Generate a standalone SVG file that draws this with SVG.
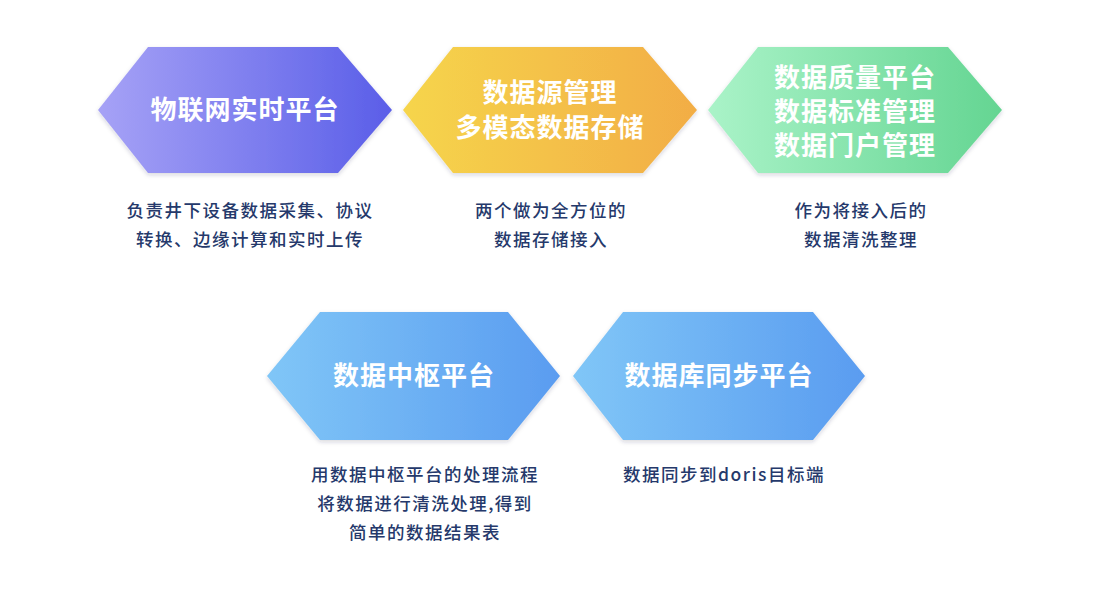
<svg xmlns="http://www.w3.org/2000/svg" width="1094" height="614" viewBox="0 0 1094 614">
<defs>
<linearGradient id="gPurple" x1="0" y1="0" x2="1" y2="0"><stop offset="0" stop-color="#a6a2f6"/><stop offset="1" stop-color="#5a5ee8"/></linearGradient>
<linearGradient id="gYellow" x1="0" y1="0" x2="1" y2="0"><stop offset="0" stop-color="#f6d54c"/><stop offset="1" stop-color="#f2ad45"/></linearGradient>
<linearGradient id="gGreen" x1="0" y1="0" x2="1" y2="0"><stop offset="0" stop-color="#aaf3c8"/><stop offset="1" stop-color="#64d592"/></linearGradient>
<linearGradient id="gBlue" x1="0" y1="0" x2="1" y2="0"><stop offset="0" stop-color="#80c6f7"/><stop offset="1" stop-color="#5a9cf0"/></linearGradient>
<filter id="sh" x="-10%" y="-10%" width="120%" height="130%"><feDropShadow dx="0" dy="2" stdDeviation="2" flood-color="#334" flood-opacity="0.18"/></filter>
<style>
.hex{filter:url(#sh);}
.t{font-family:"Noto Sans CJK SC","Noto Sans",sans-serif;font-weight:bold;font-size:26px;fill:#ffffff;text-anchor:middle;letter-spacing:1px;}
.d{font-family:"Noto Sans CJK SC","Noto Sans",sans-serif;font-weight:500;font-size:17.5px;fill:#25396b;text-anchor:middle;letter-spacing:1.5px;}
</style>
</defs>
<rect width="1094" height="614" fill="#ffffff"/>
<g id="node-iot">
<polygon class="hex" points="148,47 338,47 392,110 338,173 148,173 98,110" fill="url(#gPurple)"/>
<text class="t" x="245" y="119">物联网实时平台</text>
<text class="d" x="250" y="217">负责井下设备数据采集、协议</text>
<text class="d" x="250" y="246">转换、边缘计算和实时上传</text>
</g>
<g id="node-source">
<polygon class="hex" points="453,47 643,47 697,110 643,173 453,173 403,110" fill="url(#gYellow)"/>
<text class="t" x="550" y="102">数据源管理</text>
<text class="t" x="550" y="137">多模态数据存储</text>
<text class="d" x="551" y="217">两个做为全方位的</text>
<text class="d" x="551" y="246">数据存储接入</text>
</g>
<g id="node-quality">
<polygon class="hex" points="758,47 948,47 1002,110 948,173 758,173 708,110" fill="url(#gGreen)"/>
<text class="t" x="855" y="87">数据质量平台</text>
<text class="t" x="855" y="121">数据标准管理</text>
<text class="t" x="855" y="155">数据门户管理</text>
<text class="d" x="861" y="217">作为将接入后的</text>
<text class="d" x="861" y="246">数据清洗整理</text>
</g>
<g id="node-hub">
<polygon class="hex" points="320,312 508,312 560,376 508,440 320,440 267,376" fill="url(#gBlue)"/>
<text class="t" x="414" y="385">数据中枢平台</text>
<text class="d" x="425" y="481">用数据中枢平台的处理流程</text>
<text class="d" x="425" y="510">将数据进行清洗处理,得到</text>
<text class="d" x="425" y="539">简单的数据结果表</text>
</g>
<g id="node-sync">
<polygon class="hex" points="623,312 813,312 865,376 813,440 623,440 573,376" fill="url(#gBlue)"/>
<text class="t" x="719" y="385">数据库同步平台</text>
<text class="d" x="724" y="481">数据同步到doris目标端</text>
</g>
<g id="connectors"></g>
</svg>
